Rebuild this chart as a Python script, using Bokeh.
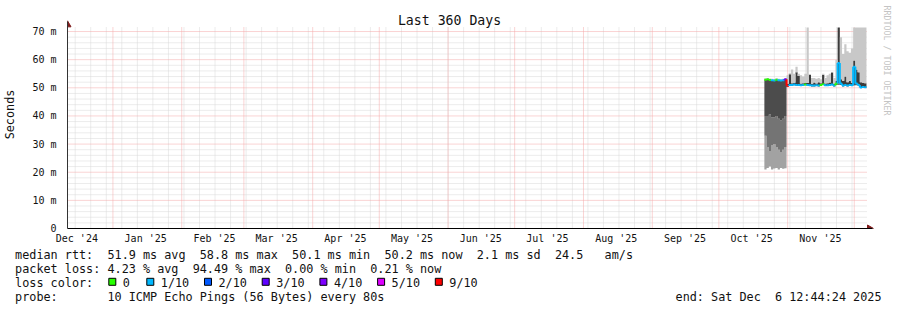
import math
import pandas as pd
from bokeh.plotting import figure
from bokeh.layouts import column
from bokeh.models import Range1d, LinearAxis, FixedTicker, ColumnDataSource
from bokeh.core.properties import value
from bokeh.embed import file_html
from bokeh.resources import INLINE

# ------------------------------------------------------------------ data
graph_start = "2024-12-11 12:44:24"
graph_end = "2025-12-06 12:44:24"

sample_days = (
    ["2025-10-%02d" % d for d in range(21, 32)]
    + ["2025-11-%02d" % d for d in range(1, 31)]
    + ["2025-12-%02d" % d for d in range(1, 7)]
)

median = [52.9, 53.0, 52.8, 52.7, 52.6, 52.9, 52.7, 52.6, 52.7, 53.0,
          50.7, 51.0, 51.0, 51.2, 51.0, 51.0, 50.9, 51.0, 51.2, 51.0,
          50.9, 50.8, 50.8, 50.9, 50.8, 51.0, 51.3, 50.9, 50.9, 51.0,
          51.2, 50.8, 51.5, 58.8, 51.5, 50.8, 51.0, 50.8, 51.0, 50.9,
          57.5, 51.5, 51.0, 50.1, 50.3, 50.2, 50.2]
ping_min = [21.0, 21.5, 22.0, 21.0, 21.3, 21.5, 21.0, 21.5, 21.2, 21.4,
            50.4, 50.7, 50.7, 50.9, 50.7, 50.7, 50.6, 50.7, 50.9, 50.7,
            50.6, 50.5, 50.5, 50.6, 50.5, 50.7, 51.0, 50.6, 50.6, 50.7,
            50.9, 50.5, 51.0, 51.0, 51.0, 50.5, 50.7, 50.5, 50.7, 50.6,
            50.8, 50.9, 50.7, 50.0, 50.1, 50.0, 50.0]
ping_low = [33.0, 29.0, 27.5, 29.5, 30.0, 29.0, 28.0, 27.0, 28.0, 29.0,
            50.4, 50.7, 50.7, 50.9, 50.7, 50.7, 50.6, 50.7, 50.9, 50.7,
            50.6, 50.5, 50.5, 50.6, 50.5, 50.7, 51.0, 50.6, 50.6, 50.7,
            50.9, 50.5, 51.0, 51.0, 51.0, 50.5, 50.7, 50.5, 50.7, 50.6,
            50.8, 50.9, 50.7, 50.0, 50.1, 50.0, 50.0]
ping_mid = [40.0, 40.0, 40.5, 39.5, 39.5, 40.0, 39.0, 38.5, 39.0, 40.0,
            50.4, 50.7, 50.7, 50.9, 50.7, 50.7, 50.6, 50.7, 50.9, 50.7,
            50.6, 50.5, 50.5, 50.6, 50.5, 50.7, 51.0, 50.6, 50.6, 50.7,
            50.9, 50.5, 51.0, 51.5, 51.0, 50.5, 50.7, 50.5, 50.7, 50.6,
            51.0, 50.9, 50.7, 50.0, 50.1, 50.0, 50.0]
ping_high = [53.0, 53.1, 52.9, 52.8, 52.7, 53.0, 52.8, 52.7, 52.8, 53.1,
             51.4, 54.8, 51.6, 51.8, 55.5, 54.2, 51.5, 51.6, 51.8, 51.7,
             54.6, 51.4, 51.9, 51.5, 52.0, 51.6, 54.6, 51.5, 51.6, 51.9,
             55.4, 51.4, 52.5, 71.4, 53.0, 52.5, 54.0, 52.0, 52.5, 51.8,
             59.7, 56.5, 55.5, 52.0, 51.8, 51.6, 51.6]
ping_max = [53.4, 53.5, 53.3, 53.2, 53.1, 53.4, 53.2, 53.1, 53.2, 53.5,
            54.5, 55.2, 56.5, 55.0, 57.5, 55.0, 54.5, 54.0, 55.0, 71.4,
            54.8, 53.5, 53.5, 53.2, 53.5, 53.0, 55.0, 53.5, 54.5, 55.0,
            55.5, 53.5, 60.0, 71.4, 68.0, 62.0, 65.5, 63.0, 62.5, 64.0,
            71.4, 71.4, 71.4, 71.4, 71.4, 71.4, 71.4]
lost_pings = [0, 0, 0, 1, 1, 0, 1, 1, 1, 3,
              9, 1, 1, 1, 1, 1, 1, 1, 0, 1,
              1, 1, 1, 1, 1, 0, 0, 1, 1, 1,
              1, 1, 0, 1, 1, 1, 1, 1, 1, 1,
              1, 1, 1, 1, 1, 1, 1]

loss_labels = ["0", "1/10", "2/10", "3/10", "4/10", "5/10", "9/10"]
loss_values = [0, 1, 2, 3, 4, 5, 9]
loss_colors = ["#26ff00", "#00b8ff", "#0059ff", "#5e00ff", "#7e00ff", "#dd00ff", "#ff0000"]

month_starts = ["2025-01-01", "2025-02-01", "2025-03-01", "2025-04-01", "2025-05-01",
                "2025-06-01", "2025-07-01", "2025-08-01", "2025-09-01", "2025-10-01",
                "2025-11-01", "2025-12-01"]
month_label_dates = ["2024-12-15 18:00", "2025-01-15 18:00", "2025-02-15 18:00",
                     "2025-03-15 18:00", "2025-04-15 18:00", "2025-05-15 18:00",
                     "2025-06-15 18:00", "2025-07-15 18:00", "2025-08-15 18:00",
                     "2025-09-15 18:00", "2025-10-15 18:00", "2025-11-15 18:00"]
month_labels = ["Dec '24", "Jan '25", "Feb '25", "Mar '25", "Apr '25", "May '25",
                "Jun '25", "Jul '25", "Aug '25", "Sep '25", "Oct '25", "Nov '25"]
y_ticks = [0, 10, 20, 30, 40, 50, 60, 70]
y_labels = ["0", "10 m", "20 m", "30 m", "40 m", "50 m", "60 m", "70 m"]

title_text = "Last 360 Days"
y_title = "Seconds"
watermark = "RRDTOOL / TOBI OETIKER"
legend_lines = [
    "median rtt:  51.9 ms avg  58.8 ms max  50.1 ms min  50.2 ms now  2.1 ms sd  24.5   am/s",
    "packet loss: 4.23 % avg  94.49 % max  0.00 % min  0.21 % now",
    "loss color:",
    "probe:       10 ICMP Echo Pings (56 Bytes) every 80s",
]
end_text = "end: Sat Dec  6 12:44:24 2025"


def ms(s):
    return pd.Timestamp(s).value / 1e6


def keep_spaces(s):
    # runs of spaces would collapse in SVG text; keep them with no-break spaces
    out, run = [], 0
    for ch in s + "\0":
        if ch == " ":
            run += 1
            continue
        if run:
            out.append("\u00a0" * (run - 1) + " " if run > 1 else " ")
            run = 0
        if ch != "\0":
            out.append(ch)
    return "".join(out)


# ------------------------------------------------------------------ main figure
FONT = "DejaVu Sans Mono"
W = 897
H_MAIN, H_LEG = 246, 64
PL, PW, PT, PB = 66, 800, 27, 228          # plot area in canvas pixels
X0, X1 = ms(graph_start), ms(graph_end)
Y_TOP = 71.43
PPM = (PB - PT) / Y_TOP                      # pixels per ms


def dx(px):
    return X0 + (px - PL) / PW * (X1 - X0)


def dy(py):
    return (PB - py) / PPM


p = figure(width=W, height=H_MAIN, output_backend="svg", toolbar_location=None,
           x_axis_type=None, y_axis_type=None,
           x_range=Range1d(X0, dx(W)), y_range=Range1d(0, dy(0)),
           min_border_left=PL, min_border_right=0, min_border_top=0,
           min_border_bottom=H_MAIN - PB, frame_align=False)
p.outline_line_color = None
p.background_fill_color = "white"
p.border_fill_color = "white"

# grid (dotted), limited to the plot area
week_ticks = [ms(d) for d in pd.date_range("2024-12-15", "2025-12-06", freq="7D")]
month_ticks = [ms(d) for d in month_starts]
minor_y = [v for v in range(2, 72, 2) if v % 10 != 0]
GRID, MGRID = "#d8d8d8", "#f4a8a8"
p.segment(x0=week_ticks, y0=0, x1=week_ticks, y1=Y_TOP, line_color=GRID,
          line_dash="1 1", line_width=1)
p.segment(x0=X0, y0=minor_y, x1=X1, y1=minor_y, line_color=GRID,
          line_dash="1 1", line_width=1)
p.segment(x0=month_ticks, y0=0, x1=month_ticks, y1=Y_TOP, line_color=MGRID,
          line_dash="1 1", line_width=1)
p.segment(x0=X0, y0=y_ticks[1:], x1=X1, y1=y_ticks[1:], line_color=MGRID,
          line_dash="1 1", line_width=1)

# axes
label_ms = [ms(d) for d in month_label_dates]
xaxis = LinearAxis(ticker=FixedTicker(ticks=label_ms, minor_ticks=[]),
                   major_label_overrides={k: v for k, v in zip(label_ms, month_labels)},
                   bounds=(dx(63), dx(872)),
                   major_tick_out=0, major_tick_in=0, minor_tick_out=0, minor_tick_in=0,
                   axis_line_color="black", major_label_standoff=4,
                   major_label_text_font=FONT, major_label_text_font_size="10px",
                   major_label_text_color="#111111")
p.add_layout(xaxis, "below")
yaxis = LinearAxis(ticker=FixedTicker(ticks=y_ticks, minor_ticks=[]),
                   major_label_overrides={k: v for k, v in zip(y_ticks, y_labels)},
                   bounds=(0, dy(21)),
                   major_tick_out=0, major_tick_in=0, minor_tick_out=0, minor_tick_in=0,
                   axis_line_color="#333333", major_label_standoff=11,
                   major_label_text_font=FONT, major_label_text_font_size="10px",
                   major_label_text_color="#111111",
                   axis_label=y_title, axis_label_standoff=12,
                   axis_label_text_font=FONT, axis_label_text_font_size="11.8px",
                   axis_label_text_font_style="normal", axis_label_text_color="#111111")
p.add_layout(yaxis, "left")

# axis arrows
p.scatter(x=[X0], y=[dy(24.3)], marker="triangle", size=7, fill_color="#7f1c1c",
          line_color="#7f1c1c")
p.scatter(x=[dx(869)], y=[0], marker="triangle", size=7, angle=-math.pi / 2,
          fill_color="#7f1c1c", line_color="#7f1c1c")

# smoke
t = pd.to_datetime([d + " 12:00" for d in sample_days])
src = ColumnDataSource(dict(t=t, pmin=ping_min, plow=ping_low, pmid=ping_mid,
                            med=median, phigh=ping_high, pmax=ping_max))
for lo, hi, col in [("pmin", "plow", "#a2a2a2"), ("plow", "pmid", "#747474"),
                    ("pmid", "med", "#4c4c4c"), ("med", "phigh", "#3c3c3c"),
                    ("phigh", "pmax", "#c8c8c8")]:
    p.varea_step(x="t", y1=lo, y2=hi, step_mode="after", fill_color=col, source=src)

# median line coloured by loss
cmap = dict(zip(loss_values, loss_colors))
n = len(median)
hx0 = [t[i] for i in range(n - 1)]
hx1 = [t[i + 1] for i in range(n - 1)]
hy = [median[i] for i in range(n - 1)]
hc = [cmap[lost_pings[i]] for i in range(n - 1)]
p.segment(x0=hx0, y0=hy, x1=hx1, y1=hy, line_color=hc, line_width=2)
vx = [t[i] for i in range(1, n - 1)]
vy0 = [median[i - 1] for i in range(1, n - 1)]
vy1 = [median[i] for i in range(1, n - 1)]
vc = [cmap[lost_pings[i]] for i in range(1, n - 1)]
p.segment(x0=vx, y0=vy0, x1=vx, y1=vy1, line_color=vc, line_width=2)

# title and watermark
p.text(x=[dx(448.5)], y=[dy(20)], text=[title_text], text_font=value(FONT),
       text_font_size="13.2px", text_align="center", text_baseline="middle",
       text_color="#111111")
p.text(x=[dx(886)], y=[dy(60)], text=[watermark], text_font=value(FONT),
       text_font_size="8.3px", text_align="center", text_baseline="middle",
       text_color="#c4c4c4", angle=-math.pi / 2)

# ------------------------------------------------------------------ legend strip
q = figure(width=W, height=H_LEG, output_backend="svg", toolbar_location=None,
           x_axis_type=None, y_axis_type=None,
           x_range=Range1d(0, W), y_range=Range1d(H_LEG, 0),
           min_border_left=0, min_border_right=0, min_border_top=0, min_border_bottom=0,
           frame_align=False)
q.outline_line_color = None
q.background_fill_color = "white"
q.border_fill_color = "white"

LX = 14.6
line_y = [254.3 - H_MAIN + 14 * i for i in range(len(legend_lines))]
q.text(x=[LX] * len(legend_lines), y=line_y, text=[keep_spaces(s) for s in legend_lines],
       text_font=value(FONT), text_font_size="11.8px", text_align="left",
       text_baseline="middle", text_color="#111111")
q.text(x=[881], y=[line_y[3]], text=[keep_spaces(end_text)], text_font=value(FONT),
       text_font_size="11.8px", text_align="right", text_baseline="middle",
       text_color="#111111")

box_x = [108.3 + (38.0 if i > 0 else 0) + 57.7 * max(i - 1, 0) for i in range(len(loss_labels))]
q.rect(x=[b + 3.5 for b in box_x], y=[line_y[2] - 1.0] * len(box_x), width=7, height=7,
       fill_color=loss_colors, line_color="black", line_width=1)
q.text(x=[b + 14 for b in box_x], y=[line_y[2]] * len(box_x), text=loss_labels,
       text_font=value(FONT), text_font_size="11.8px", text_align="left",
       text_baseline="middle", text_color="#111111")

layout = column(p, q, spacing=0)
open("out.html", "w").write(file_html(layout, INLINE))
